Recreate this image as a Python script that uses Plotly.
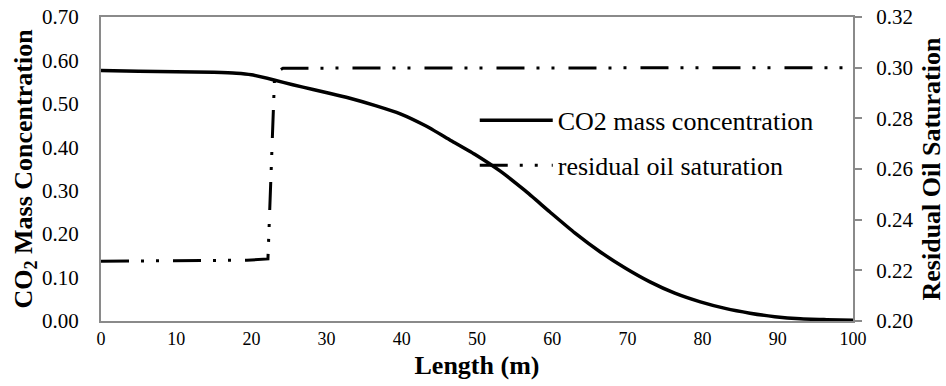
import plotly.graph_objects as go

# CO2 mass concentration vs length
co2_x = [0, 5, 10, 15, 18, 20, 23, 25.5, 28.2, 30.5, 33.1, 36.5, 39.8, 43.1, 46.4, 49.7,
         53.1, 56.4, 59.7, 63.0, 66.4, 69.7, 73.0, 76.3, 79.7, 83.0, 86.3, 89.6, 93.0,
         96.5, 100]
co2_y = [0.577, 0.575, 0.574, 0.5725, 0.5705, 0.567, 0.555, 0.544, 0.533, 0.524, 0.513,
         0.496, 0.477, 0.450, 0.417, 0.384, 0.345, 0.300, 0.251, 0.203, 0.159, 0.122,
         0.090, 0.064, 0.044, 0.029, 0.018, 0.010, 0.005, 0.003, 0.0015]

# Residual oil saturation vs length
oil_x = [0, 19.4, 22.2, 23.1, 24.2, 100]
oil_y = [0.2236, 0.2240, 0.2245, 0.2978, 0.2998, 0.300]

x_ticks = list(range(0, 101, 10))
y_ticks = [0.0, 0.1, 0.2, 0.3, 0.4, 0.5, 0.6, 0.7]
y2_ticks = [0.20, 0.22, 0.24, 0.26, 0.28, 0.30, 0.32]

FONT = "Liberation Serif"
AXC = "#8a8a8a"

fig = go.Figure()
fig.add_trace(go.Scatter(
    x=co2_x, y=co2_y, mode="lines", name="CO2 mass concentration",
    line=dict(color="black", width=3.5, shape="spline", smoothing=0.5),
    legendgroup="a"))
fig.add_trace(go.Scatter(
    x=oil_x, y=oil_y, mode="lines", name="residual oil saturation", yaxis="y2",
    line=dict(color="black", width=3, dash="28px,12px,3px,12px,3px,14px"),
    legendgroup="b"))

fig.update_layout(
    width=946, height=386,
    margin=dict(l=101, r=93, t=17, b=65, autoexpand=False),
    paper_bgcolor="white", plot_bgcolor="white",
    font=dict(family=FONT, color="black", size=21),
    showlegend=True,
    legend=dict(x=0.497, y=0.737, xanchor="left", yanchor="top",
                xref="paper", yref="paper",
                font=dict(family=FONT, size=26, color="black"),
                bgcolor="rgba(0,0,0,0)", itemwidth=73,
                traceorder="grouped", tracegroupgap=8),
    xaxis=dict(range=[0, 100], tickvals=x_ticks, ticktext=[str(v) for v in x_ticks],
               showline=True, linecolor=AXC, linewidth=2, mirror=True,
               ticks="", showgrid=False, zeroline=False,
               tickfont=dict(size=18, family=FONT),
               title=dict(text="<b>Length (m)</b>", font=dict(size=26, family=FONT),
                          standoff=8)),
    yaxis=dict(range=[0, 0.7], tickvals=y_ticks, tickformat=".2f",
               showline=True, linecolor=AXC, linewidth=2,
               ticks="", showgrid=False, zeroline=False,
               ticklabelstandoff=16,
               tickfont=dict(size=21, family=FONT),
               title=dict(text="<b>CO<sub>2</sub> Mass Concentration</b>",
                          font=dict(size=26, family=FONT), standoff=2)),
    yaxis2=dict(range=[0.2, 0.32], tickvals=y2_ticks, tickformat=".2f",
                overlaying="y", side="right", anchor="x",
                showline=True, linecolor=AXC, linewidth=2,
                ticks="outside", ticklen=7, tickcolor=AXC, tickwidth=1.5,
                showgrid=False, zeroline=False,
                ticklabelstandoff=10,
                tickfont=dict(size=21, family=FONT),
                title=dict(text="<b>Residual Oil Saturation</b>",
                           font=dict(size=26, family=FONT), standoff=14)),
)

fig.write_html("out.html")
